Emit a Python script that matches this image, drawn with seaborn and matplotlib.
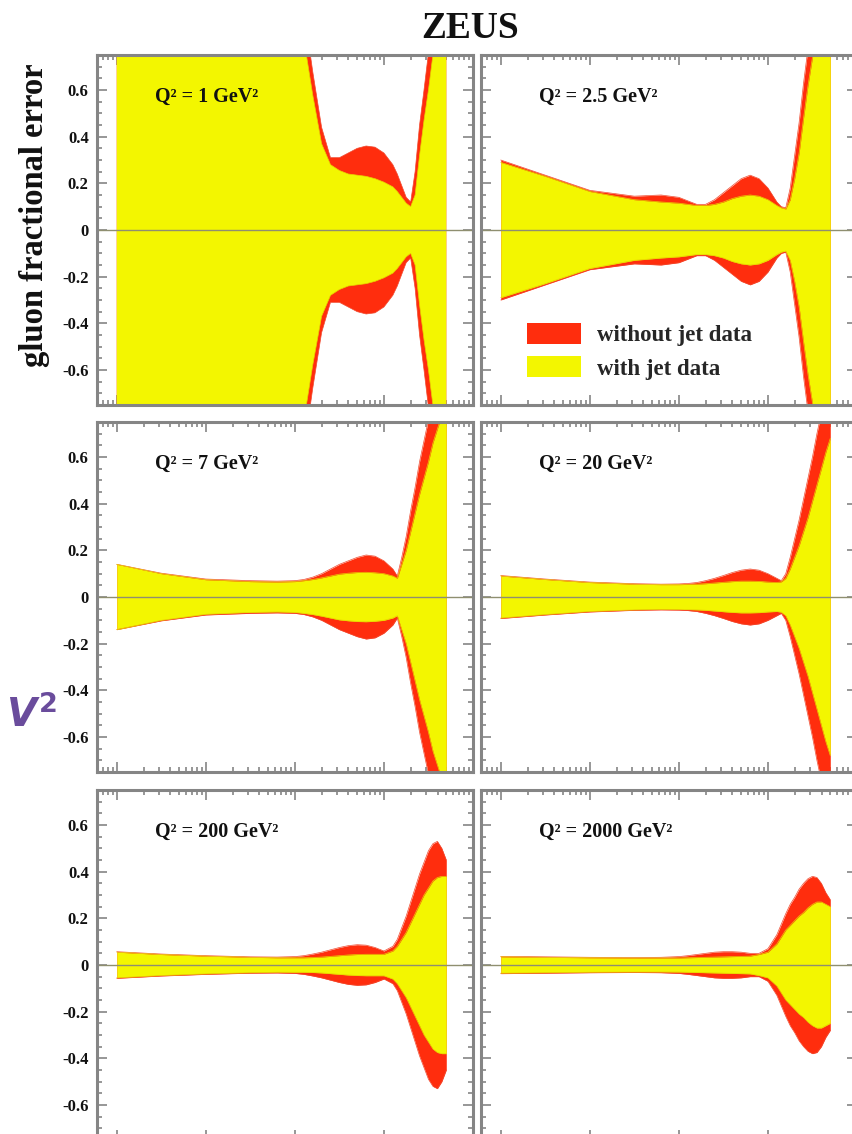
import numpy as np
import pandas as pd
import matplotlib
matplotlib.use("Agg")
import matplotlib.pyplot as plt
import seaborn as sns
from matplotlib.patches import Patch
from matplotlib.ticker import LogLocator, MultipleLocator, NullFormatter, FixedLocator, FixedFormatter

# ---------------- data ----------------
log10_x = [-4.0, -3.5, -3.0, -2.5, -2.2, -2.0, -1.9, -1.8, -1.7, -1.6, -1.5, -1.4,
           -1.3, -1.2, -1.1, -1.0, -0.9, -0.85, -0.8, -0.75, -0.7, -0.65, -0.6,
           -0.55, -0.5, -0.45, -0.4, -0.35, -0.3]

q2_labels = ["Q² = 1 GeV²", "Q² = 2.5 GeV²", "Q² = 7 GeV²",
             "Q² = 20 GeV²", "Q² = 200 GeV²", "Q² = 2000 GeV²"]

# fractional error with jet data (yellow), half-width of the band
with_jet_q2_1 = [3, 3, 3, 3, 2.0, 1.1, 0.82, 0.58, 0.37, 0.28, 0.255, 0.24, 0.235, 0.23,
                 0.22, 0.205, 0.185, 0.165, 0.14, 0.115, 0.10, 0.15, 0.32, 0.47, 0.60,
                 0.75, 0.90, 1.1, 1.3]
without_jet_q2_1 = [3, 3, 3, 3, 2.2, 1.3, 0.95, 0.68, 0.44, 0.31, 0.31, 0.33, 0.35, 0.36,
                    0.355, 0.33, 0.28, 0.24, 0.19, 0.14, 0.12, 0.25, 0.45, 0.60, 0.76,
                    0.95, 1.15, 1.4, 1.6]

with_jet_q2_2p5 = [0.29, 0.23, 0.165, 0.13, 0.12, 0.115, 0.11, 0.105, 0.105, 0.11, 0.12,
                   0.135, 0.145, 0.15, 0.145, 0.13, 0.105, 0.095, 0.09, 0.13, 0.22, 0.33,
                   0.48, 0.62, 0.74, 0.88, 1.0, 1.2, 1.4]
without_jet_q2_2p5 = [0.30, 0.235, 0.17, 0.145, 0.15, 0.14, 0.125, 0.11, 0.11, 0.13, 0.16,
                      0.19, 0.22, 0.235, 0.22, 0.18, 0.12, 0.10, 0.095, 0.18, 0.32, 0.46,
                      0.63, 0.78, 0.93, 1.1, 1.3, 1.5, 1.7]

with_jet_q2_7 = [0.14, 0.10, 0.074, 0.066, 0.064, 0.066, 0.07, 0.075, 0.082, 0.09, 0.098,
                 0.102, 0.105, 0.106, 0.104, 0.10, 0.09, 0.08, 0.14, 0.20, 0.28, 0.36,
                 0.44, 0.51, 0.58, 0.66, 0.72, 0.78, 0.84]
without_jet_q2_7 = [0.14, 0.102, 0.077, 0.070, 0.068, 0.07, 0.075, 0.085, 0.10, 0.12, 0.14,
                    0.155, 0.17, 0.18, 0.175, 0.155, 0.12, 0.09, 0.17, 0.26, 0.37, 0.47,
                    0.58, 0.67, 0.76, 0.86, 0.95, 1.05, 1.15]

with_jet_q2_20 = [0.09, 0.075, 0.062, 0.055, 0.053, 0.053, 0.054, 0.055, 0.057, 0.06, 0.063,
                  0.066, 0.068, 0.068, 0.067, 0.064, 0.062, 0.065, 0.08, 0.12, 0.17, 0.22,
                  0.28, 0.34, 0.41, 0.48, 0.55, 0.62, 0.68]
without_jet_q2_20 = [0.092, 0.077, 0.064, 0.057, 0.055, 0.056, 0.058, 0.062, 0.07, 0.08,
                     0.092, 0.105, 0.115, 0.12, 0.115, 0.10, 0.08, 0.07, 0.10, 0.17, 0.25,
                     0.33, 0.42, 0.51, 0.60, 0.70, 0.79, 0.88, 0.96]

with_jet_q2_200 = [0.055, 0.045, 0.038, 0.033, 0.031, 0.031, 0.031, 0.032, 0.034, 0.037,
                   0.04, 0.043, 0.045, 0.046, 0.046, 0.046, 0.06, 0.08, 0.11, 0.14, 0.18,
                   0.22, 0.26, 0.30, 0.33, 0.36, 0.375, 0.38, 0.38]
without_jet_q2_200 = [0.057, 0.047, 0.04, 0.035, 0.034, 0.036, 0.04, 0.047, 0.055, 0.065,
                      0.075, 0.083, 0.087, 0.085, 0.075, 0.06, 0.08, 0.11, 0.16, 0.21, 0.27,
                      0.33, 0.39, 0.44, 0.49, 0.52, 0.53, 0.50, 0.45]

with_jet_q2_2000 = [0.035, 0.033, 0.031, 0.03, 0.03, 0.03, 0.031, 0.032, 0.033, 0.034,
                    0.035, 0.036, 0.037, 0.038, 0.045, 0.055, 0.09, 0.12, 0.15, 0.17, 0.19,
                    0.21, 0.225, 0.245, 0.26, 0.27, 0.27, 0.26, 0.25]
without_jet_q2_2000 = [0.037, 0.035, 0.033, 0.032, 0.033, 0.036, 0.04, 0.045, 0.05, 0.055,
                       0.057, 0.057, 0.055, 0.05, 0.05, 0.07, 0.13, 0.175, 0.22, 0.26, 0.29,
                       0.325, 0.35, 0.37, 0.38, 0.375, 0.35, 0.31, 0.28]

with_jet = [with_jet_q2_1, with_jet_q2_2p5, with_jet_q2_7,
            with_jet_q2_20, with_jet_q2_200, with_jet_q2_2000]
without_jet = [without_jet_q2_1, without_jet_q2_2p5, without_jet_q2_7,
               without_jet_q2_20, without_jet_q2_200, without_jet_q2_2000]

y_ticks = [0.6, 0.4, 0.2, 0, -0.2, -0.4, -0.6]
y_tick_labels = ["0.6", "0.4", "0.2", "0", "-0.2", "-0.4", "-0.6"]
legend_labels = ["without jet data", "with jet data"]

# ---------------- style ----------------
sns.set_theme(style="ticks")
plt.rcParams["font.family"] = ["Liberation Serif", "DejaVu Serif"]
plt.rcParams["font.weight"] = "bold"

RED = "#ff2d0d"
YELLOW = "#f3f600"
FRAME = "#858585"

W, H = 852, 1134
fig = plt.figure(figsize=(W / 100, H / 100), dpi=100)

col_left = [97, 481]
row_top = [55, 422, 790]
pw, ph = 376, 350

x_vals = 10.0 ** np.array(log10_x)

for i in range(6):
    r, c = divmod(i, 2)
    left = col_left[c] / W
    bottom = 1 - (row_top[r] + ph) / H
    ax = fig.add_axes([left, bottom, pw / W, ph / H])
    df = pd.DataFrame({"x": x_vals,
                       "yel": with_jet[i],
                       "red": without_jet[i]})
    ax.fill_between(df["x"], -df["red"], df["red"], color=RED, lw=0, zorder=1)
    ax.fill_between(df["x"], -df["yel"], df["yel"], color=YELLOW, lw=0, zorder=2)
    for col, colr in (("red", "#f04a30"), ("yel", "#e8d000")):
        sns.lineplot(x=df["x"], y=df[col], ax=ax, color=colr, lw=0.5, zorder=3)
        sns.lineplot(x=df["x"], y=-df[col], ax=ax, color=colr, lw=0.5, zorder=3)
    ax.axhline(0, color="#8f8f70", lw=1.0, zorder=4)
    ax.set_xscale("log")
    ax.set_xlim(6e-5, 1.0)
    ax.set_ylim(-0.75, 0.75)
    ax.set_xlabel("")
    ax.set_ylabel("")
    ax.xaxis.set_major_locator(LogLocator(base=10, numticks=10))
    ax.xaxis.set_minor_locator(LogLocator(base=10, subs=np.arange(2, 10), numticks=10))
    ax.xaxis.set_major_formatter(NullFormatter())
    ax.xaxis.set_minor_formatter(NullFormatter())
    ax.yaxis.set_major_locator(FixedLocator(y_ticks))
    ax.yaxis.set_minor_locator(MultipleLocator(0.05))
    if c == 0:
        ax.yaxis.set_major_formatter(FixedFormatter(y_tick_labels))
    else:
        ax.yaxis.set_major_formatter(NullFormatter())
    ax.tick_params(which="both", direction="in", top=True, right=True,
                   color=FRAME, width=1.2)
    ax.tick_params(which="major", length=7, labelsize=12, pad=6, labelcolor="#111111")
    ax.tick_params(which="minor", length=3.5)
    for lab in ax.get_yticklabels():
        lab.set_fontweight("bold")
    for s in ax.spines.values():
        s.set_color(FRAME)
        s.set_linewidth(2.2)
        s.set_zorder(6)
    ax.text(58 / pw, 1 - 42 / ph, q2_labels[i], transform=ax.transAxes,
            fontsize=14.5, fontweight="bold", ha="left", va="center", color="#111111")
    if i == 1:
        handles = [Patch(facecolor=RED, edgecolor="none"),
                   Patch(facecolor=YELLOW, edgecolor="none")]
        ax.legend(handles, legend_labels, loc="upper left",
                  bbox_to_anchor=(46 / pw, 1 - 268 / ph), frameon=False,
                  prop={"family": "Liberation Serif", "weight": "bold", "size": 16.5},
                  handlelength=2.35, handleheight=1.0, handletextpad=0.7,
                  labelspacing=0.45, borderpad=0, borderaxespad=0)

fig.text(470 / W, 1 - 29 / H, "ZEUS", ha="center", va="center",
         fontsize=27, fontweight="bold", color="#111111")
fig.text(35 / W, 1 - 215 / H, "gluon fractional error", rotation=90,
         ha="center", va="center", fontsize=23.5, fontweight="bold", color="#111111")
fig.text(6 / W, 1 - 716 / H, r"$V^{2}$", ha="left", va="center", fontsize=28,
         color="#6a4c9c", math_fontfamily="dejavusans")

fig.savefig("out.png", dpi=100)
